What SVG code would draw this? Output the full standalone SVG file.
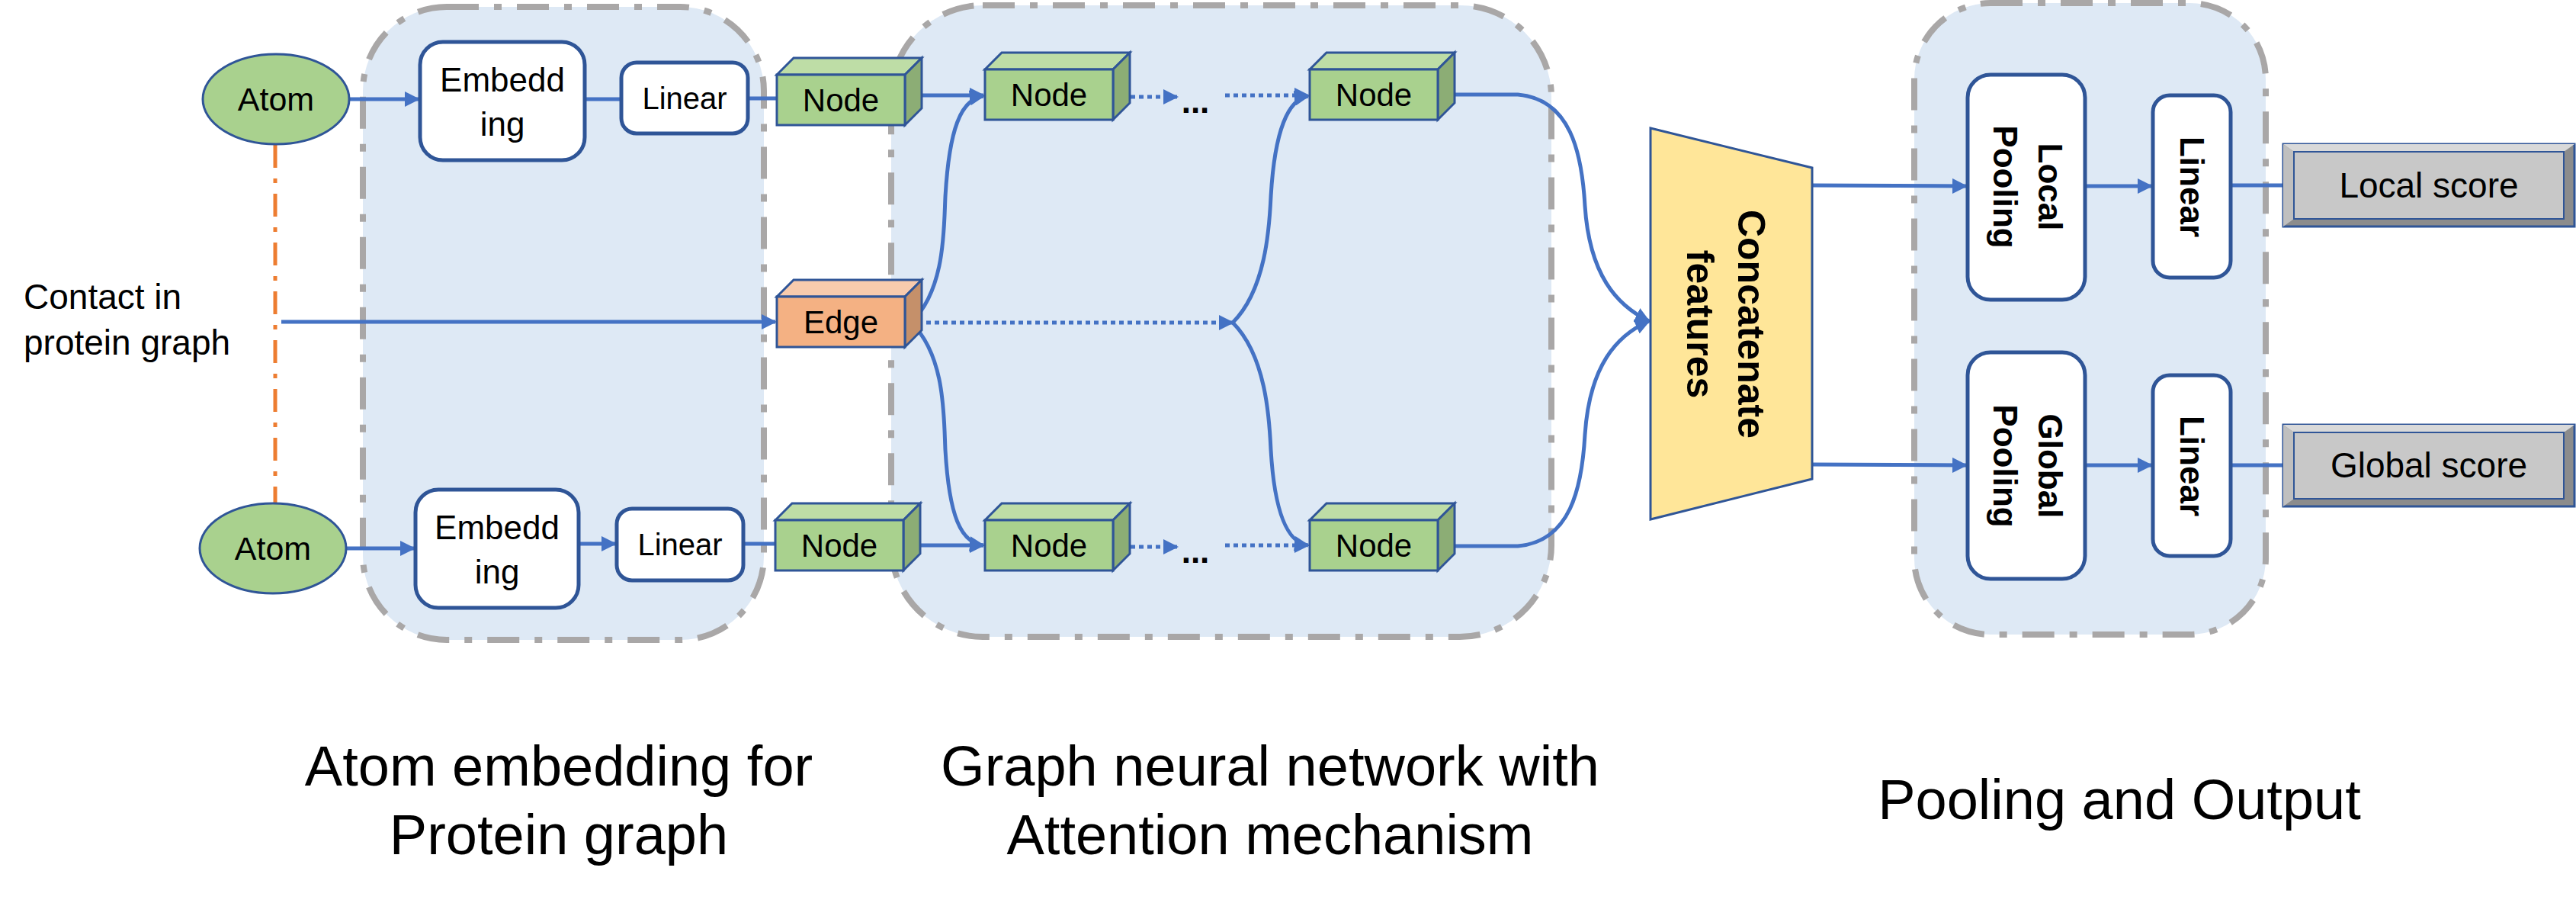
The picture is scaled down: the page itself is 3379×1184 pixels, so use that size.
<svg xmlns="http://www.w3.org/2000/svg" width="3379" height="1184" viewBox="0 0 3379 1184">
<defs>
<style>
.panel{fill:#dee9f5;stroke:#a9a7a7;stroke-width:8;stroke-dasharray:42 20 10 20}
.box{fill:#fff;stroke:#2f5597;stroke-width:5}
.ln{fill:none;stroke:#4472c4;stroke-width:5}
.dot{fill:none;stroke:#4472c4;stroke-width:5;stroke-dasharray:6 5}
.t{font-family:"Liberation Sans",Arial,sans-serif;fill:#000;text-anchor:middle}
.tb{font-family:"Liberation Sans",Arial,sans-serif;font-weight:bold;fill:#000;text-anchor:middle}
.f{fill:#a9d18e;stroke:#2f5597;stroke-width:3}
.ft{fill:#bedda6;stroke:#2f5597;stroke-width:3}
.fs{fill:#8cad75;stroke:#2f5597;stroke-width:3}
</style>
<marker id="a" viewBox="0 0 10 10" refX="9" refY="5" markerWidth="4" markerHeight="4" orient="auto"><path d="M0,0L10,5L0,10z" fill="#4472c4"/></marker>
<g id="nodeShape">
<polygon class="ft" points="0,0 22,-22 190,-22 168,0"/>
<polygon class="fs" points="168,0 190,-22 190,44 168,66"/>
<rect class="f" x="0" y="0" width="168" height="66"/>
</g>
</defs>

<rect class="panel" x="476" y="9" width="526" height="830" rx="110"/>
<rect class="panel" x="1169" y="7" width="866" height="828" rx="120"/>
<rect class="panel" x="2511" y="4" width="461" height="828" rx="100"/>

<g id="connectors">
<line x1="361" y1="190" x2="361" y2="660" stroke="#ed7d31" stroke-width="5" stroke-dasharray="30 14 6 14"/>
<line class="ln" x1="458" y1="130" x2="549" y2="130" marker-end="url(#a)"/>
<line class="ln" x1="767" y1="130" x2="815" y2="130"/>
<line class="ln" x1="981" y1="129" x2="1019" y2="129"/>
<line class="ln" x1="454" y1="719" x2="543" y2="719" marker-end="url(#a)"/>
<line class="ln" x1="759" y1="713" x2="807" y2="713" marker-end="url(#a)"/>
<line class="ln" x1="975" y1="713" x2="1017" y2="713"/>
<line class="ln" x1="369" y1="422" x2="1017" y2="422" marker-end="url(#a)"/>
<line class="ln" x1="1208" y1="125" x2="1290" y2="125" marker-end="url(#a)"/>
<line class="ln" x1="1208" y1="715" x2="1290" y2="715" marker-end="url(#a)"/>
<line class="dot" x1="1483" y1="127" x2="1544" y2="127" marker-end="url(#a)"/>
<line class="dot" x1="1607" y1="125" x2="1716" y2="125" marker-end="url(#a)"/>
<line class="dot" x1="1483" y1="717" x2="1544" y2="717" marker-end="url(#a)"/>
<line class="dot" x1="1607" y1="715" x2="1716" y2="715" marker-end="url(#a)"/>
<line class="dot" x1="1182" y1="423" x2="1617" y2="423" marker-end="url(#a)"/>
<path class="ln" d="M1195,423 C1240,380 1238,300 1240,258 C1245,170 1260,130 1290,126" marker-end="url(#a)"/>
<path class="ln" d="M1195,423 C1240,466 1238,546 1240,590 C1245,676 1260,712 1290,715" marker-end="url(#a)"/>
<path class="ln" d="M1617,423 C1660,380 1665,300 1667,258 C1672,170 1690,130 1716,126" marker-end="url(#a)"/>
<path class="ln" d="M1617,423 C1660,466 1665,546 1667,590 C1672,676 1690,712 1716,715" marker-end="url(#a)"/>
<path class="ln" d="M1900,124 L1991,124 C2060,130 2075,200 2079,270 C2085,360 2120,400 2163,421" marker-end="url(#a)"/>
<path class="ln" d="M1900,716 L1991,716 C2060,710 2075,640 2079,570 C2085,480 2120,440 2163,421" marker-end="url(#a)"/>
<line class="ln" x1="2377" y1="243" x2="2579" y2="244" marker-end="url(#a)"/>
<line class="ln" x1="2735" y1="244" x2="2822" y2="244" marker-end="url(#a)"/>
<line class="ln" x1="2918" y1="243" x2="2995" y2="243"/>
<line class="ln" x1="2377" y1="609" x2="2579" y2="610" marker-end="url(#a)"/>
<line class="ln" x1="2735" y1="610" x2="2822" y2="610" marker-end="url(#a)"/>
<line class="ln" x1="2918" y1="610" x2="2995" y2="610"/>
</g>

<g id="atom1"><ellipse cx="362" cy="130" rx="96" ry="59" fill="#a9d18e" stroke="#2f5597" stroke-width="3"/><text class="t" x="362" y="145" font-size="43">Atom</text></g>
<g id="atom2"><ellipse cx="358" cy="719" rx="96" ry="59" fill="#a9d18e" stroke="#2f5597" stroke-width="3"/><text class="t" x="358" y="734" font-size="43">Atom</text></g>
<g id="contact"><text font-family="Liberation Sans,Arial,sans-serif" font-size="46" x="31" y="405">Contact in</text><text font-family="Liberation Sans,Arial,sans-serif" font-size="46" x="31" y="465">protein graph</text></g>

<g id="emb1"><rect class="box" x="551" y="55" width="216" height="155" rx="30"/><text class="t" x="659" y="120" font-size="44">Embedd</text><text class="t" x="659" y="178" font-size="44">ing</text></g>
<g id="lin1"><rect class="box" x="815" y="82" width="166" height="93" rx="20"/><text class="t" x="898" y="143" font-size="40">Linear</text></g>
<g id="emb2"><rect class="box" x="545" y="642" width="214" height="155" rx="30"/><text class="t" x="652" y="707" font-size="44">Embedd</text><text class="t" x="652" y="765" font-size="44">ing</text></g>
<g id="lin2"><rect class="box" x="809" y="667" width="166" height="94" rx="20"/><text class="t" x="892" y="728" font-size="40">Linear</text></g>

<g id="node0a" transform="translate(1019,98)"><use href="#nodeShape"/><text class="t" x="84" y="48" font-size="42">Node</text></g>
<g id="node0b" transform="translate(1017,682)"><use href="#nodeShape"/><text class="t" x="84" y="48" font-size="42">Node</text></g>
<g id="edge" transform="translate(1019,389)">
<polygon points="0,0 22,-22 190,-22 168,0" fill="#f8cbad" stroke="#2f5597" stroke-width="3"/>
<polygon points="168,0 190,-22 190,44 168,66" fill="#c5906a" stroke="#2f5597" stroke-width="3"/>
<rect x="0" y="0" width="168" height="66" fill="#f4b183" stroke="#2f5597" stroke-width="3"/>
<text class="t" x="84" y="48" font-size="42">Edge</text></g>
<g id="node1a" transform="translate(1292,91)"><use href="#nodeShape"/><text class="t" x="84" y="48" font-size="42">Node</text></g>
<g id="node1b" transform="translate(1292,682)"><use href="#nodeShape"/><text class="t" x="84" y="48" font-size="42">Node</text></g>
<g id="node2a" transform="translate(1718,91)"><use href="#nodeShape"/><text class="t" x="84" y="48" font-size="42">Node</text></g>
<g id="node2b" transform="translate(1718,682)"><use href="#nodeShape"/><text class="t" x="84" y="48" font-size="42">Node</text></g>
<text class="tb" x="1568" y="148" font-size="44">...</text>
<text class="tb" x="1568" y="738" font-size="44">...</text>

<g id="concat"><polygon points="2165,168 2377,220 2377,628 2165,681" fill="#ffe699" stroke="#2f5597" stroke-width="3"/>
<text class="tb" font-size="50" transform="translate(2280,425) rotate(90)">Concatenate</text>
<text class="tb" font-size="50" transform="translate(2213,425) rotate(90)">features</text></g>

<g id="lpool"><rect class="box" x="2581" y="98" width="154" height="295" rx="30"/><text class="tb" font-size="44" transform="translate(2674,245) rotate(90)">Local</text><text class="tb" font-size="44" transform="translate(2615,245) rotate(90)">Pooling</text></g>
<g id="lin3"><rect class="box" x="2824" y="125" width="102" height="239" rx="22"/><text class="tb" font-size="44" transform="translate(2860,245) rotate(90)">Linear</text></g>
<g id="gpool"><rect class="box" x="2581" y="462" width="154" height="297" rx="30"/><text class="tb" font-size="44" transform="translate(2674,611) rotate(90)">Global</text><text class="tb" font-size="44" transform="translate(2615,611) rotate(90)">Pooling</text></g>
<g id="lin4"><rect class="box" x="2824" y="492" width="102" height="237" rx="22"/><text class="tb" font-size="44" transform="translate(2860,611) rotate(90)">Linear</text></g>

<g id="lscore"><rect x="2995" y="189" width="382" height="108" fill="#8c8c8c" stroke="#2f5597" stroke-width="3"/><polygon points="2995,189 3377,189 3363,199 3009,199" fill="#d9d9d9"/><polygon points="2995,189 3009,199 3009,287 2995,297" fill="#bfbfbf"/><rect x="3009" y="199" width="354" height="88" fill="#c8c8c8" stroke="#2f5597" stroke-width="2"/><text class="t" x="3186" y="259" font-size="46">Local score</text></g>
<g id="gscore"><rect x="2995" y="557" width="382" height="107" fill="#8c8c8c" stroke="#2f5597" stroke-width="3"/><polygon points="2995,557 3377,557 3363,567 3009,567" fill="#d9d9d9"/><polygon points="2995,557 3009,567 3009,654 2995,664" fill="#bfbfbf"/><rect x="3009" y="567" width="354" height="87" fill="#c8c8c8" stroke="#2f5597" stroke-width="2"/><text class="t" x="3186" y="626" font-size="46">Global score</text></g>

<g id="titles">
<text class="t" x="733" y="1030" font-size="74">Atom embedding for</text>
<text class="t" x="733" y="1120" font-size="74">Protein graph</text>
<text class="t" x="1666" y="1030" font-size="74">Graph neural network with</text>
<text class="t" x="1666" y="1120" font-size="74">Attention mechanism</text>
<text class="t" x="2780" y="1074" font-size="74">Pooling and Output</text>
</g>
</svg>
